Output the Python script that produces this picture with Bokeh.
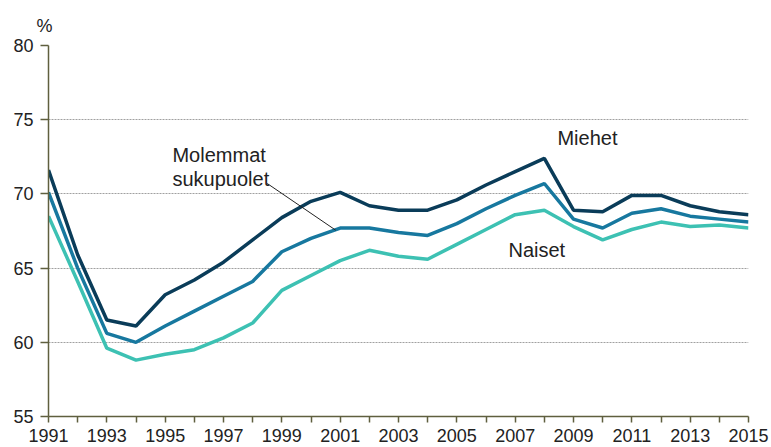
from bokeh.plotting import figure
from bokeh.models import FixedTicker, Label, Range1d
from bokeh.embed import file_html
from bokeh.resources import INLINE

years = list(range(1991, 2016))
miehet = [71.6, 65.9, 61.5, 61.1, 63.2, 64.2, 65.4, 66.9, 68.4, 69.5, 70.1, 69.2, 68.9, 68.9, 69.6, 70.6, 71.5, 72.4, 68.9, 68.8, 69.9, 69.9, 69.2, 68.8, 68.6]
molemmat = [70.1, 65.0, 60.6, 60.0, 61.1, 62.1, 63.1, 64.1, 66.1, 67.0, 67.7, 67.7, 67.4, 67.2, 68.0, 69.0, 69.9, 70.7, 68.3, 67.7, 68.7, 69.0, 68.5, 68.3, 68.1]
naiset = [68.5, 64.1, 59.6, 58.8, 59.2, 59.5, 60.3, 61.3, 63.5, 64.5, 65.5, 66.2, 65.8, 65.6, 66.6, 67.6, 68.6, 68.9, 67.8, 66.9, 67.6, 68.1, 67.8, 67.9, 67.7]

y_ticks = [55, 60, 65, 70, 75, 80]
x_major = list(range(1991, 2016, 2))
x_minor = list(range(1992, 2015, 2))

leader_x = [1998.5, 2000.85]
leader_y = [70.7, 67.55]

FONT = "Liberation Sans"
TXT = "#222222"
AXC = "#5f5f3f"

p = figure(width=771, height=447, output_backend="svg", toolbar_location=None,
           x_range=Range1d(1991, 2015), y_range=Range1d(55, 80),
           min_border_left=48, min_border_right=23, min_border_top=45, min_border_bottom=31,
           title="%")
p.outline_line_color = None
p.background_fill_color = "white"
p.border_fill_color = "white"

p.title.text_font = FONT
p.title.text_font_size = "18px"
p.title.text_font_style = "normal"
p.title.text_color = TXT
p.title.align = "left"
p.title.offset = -12
p.title.standoff = 19

p.xgrid.grid_line_color = None
p.ygrid.grid_line_color = "#a0a0a0"
p.ygrid.grid_line_dash = "2 1"
p.ygrid.grid_line_width = 1

p.xaxis.ticker = FixedTicker(ticks=x_major, minor_ticks=x_minor)
p.yaxis.ticker = FixedTicker(ticks=y_ticks)
p.yaxis.minor_tick_line_color = None
for ax in (p.xaxis, p.yaxis):
    ax.axis_line_color = AXC
    ax.axis_line_width = 1.5
    ax.major_tick_line_color = AXC
    ax.major_tick_line_width = 1.5
    ax.major_tick_in = 0
    ax.major_label_text_font = FONT
    ax.major_label_text_font_size = "18px"
    ax.major_label_text_color = TXT
p.xaxis.major_tick_out = 6
p.xaxis.minor_tick_out = 6
p.xaxis.minor_tick_in = 0
p.xaxis.minor_tick_line_color = AXC
p.xaxis.minor_tick_line_width = 1.5
p.xaxis.major_label_standoff = 6
p.yaxis.major_tick_out = 8
p.yaxis.major_label_standoff = 7

p.line(years, naiset, line_color="#3dc1b3", line_width=3.5)
p.line(years, molemmat, line_color="#17789f", line_width=3.5)
p.line(years, miehet, line_color="#0a3c59", line_width=3.5)

p.line(leader_x, leader_y, line_color="#222222", line_width=1)

def lab(x, y, t, align="left", base="alphabetic"):
    p.add_layout(Label(x=x, y=y, text=t, text_font=FONT, text_font_size="20px",
                       text_color=TXT, text_align=align, text_baseline=base))

lab(1995.25, 72.6, "Molemmat")
lab(1995.25, 71.0, "sukupuolet")
lab(2008.45, 73.75, "Miehet")
lab(2006.77, 66.2, "Naiset")

open("out.html", "w").write(file_html(p, INLINE))
